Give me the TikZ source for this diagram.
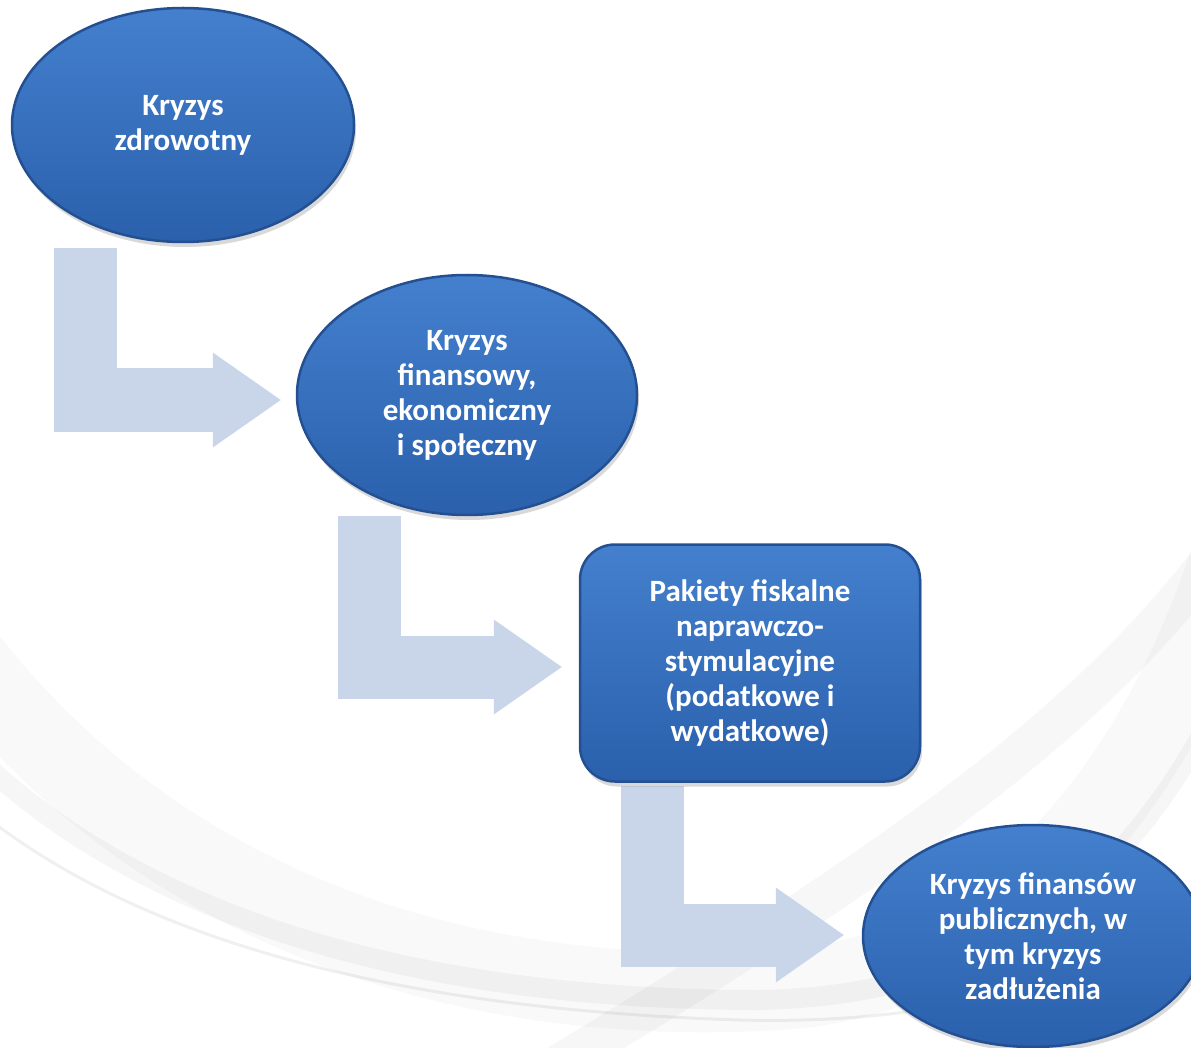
\documentclass[tikz,border=0pt]{standalone}
\usepackage{fontspec}
\setmainfont{Carlito}
\usetikzlibrary{calc, shapes.geometric, arrows.meta, shadows, backgrounds}
\definecolor{bubtop}{RGB}{68,128,206}
\definecolor{bubbot}{RGB}{42,96,172}
\definecolor{bubedge}{RGB}{36,80,146}
\definecolor{pale}{RGB}{201,214,234}
\tikzstyle{bubble} = [ellipse, draw=bubedge, line width=2.5pt, top color=bubtop, bottom color=bubbot,
  text=white, align=center, inner sep=0pt, font=\bfseries\fontsize{31}{35}\selectfont,
  drop shadow={shadow xshift=2pt, shadow yshift=-5pt, opacity=0.3}]
\tikzstyle{block} = [bubble, rectangle, rounded corners=35pt]
\tikzstyle{flow} = [draw=pale, line width=63pt, line join=miter,
  -{Triangle[length=68pt, width=95pt, line width=0pt]}]
\tikzstyle{swoosh} = [draw=black, line cap=round]

\begin{document}
\begin{tikzpicture}[x=1pt, y=-1pt]
    \useasboundingbox (0,0) rectangle (1191,1048);
    \node (k1) [bubble, minimum width=342pt, minimum height=234pt] at (183,125) {Kryzys\\zdrowotny};
    \node (k2) [bubble, minimum width=340pt, minimum height=240pt] at (467,395) {Kryzys\\finansowy,\\ekonomiczny\\i społeczny};
    \node (k3) [block, minimum width=340pt, minimum height=237pt] at (750,663) {Pakiety fiskalne\\naprawczo-\\stymulacyjne\\(podatkowe i\\wydatkowe)};
    \node (k4) [bubble, minimum width=340pt, minimum height=222pt] at (1033,936) {Kryzys finansów\\publicznych, w\\tym kryzys\\zadłużenia};
    \begin{scope}[on background layer]
        % background swoosh
        \draw[swoosh, line width=80pt, opacity=0.025] (-40,650) .. controls (150,900) and (450,1010) .. (780,990) .. controls (1000,975) and (1150,800) .. (1230,560);
        \draw[swoosh, line width=20pt, opacity=0.035] (-20,760) .. controls (150,920) and (420,1000) .. (760,1000) .. controls (980,995) and (1120,900) .. (1220,700);
        \draw[swoosh, line width=3pt, opacity=0.06] (-10,820) .. controls (160,950) and (420,1010) .. (740,1020) .. controls (950,1025) and (1100,980) .. (1210,880);
        \draw[swoosh, line width=40pt, opacity=0.03] (1240,520) .. controls (1100,720) and (900,860) .. (500,1100);
        \draw[flow] ($(k1.south)+(-98,5)$) |- ($(k2.west)+(-15,5)$);
        \draw[flow] ($(k2.south)+(-98,0)$) |- ($(k3.west)+(-17,4)$);
        \draw[flow] ($(k3.south)+(-98,3)$) |- ($(k4.west)+(-18,-1)$);
    \end{scope}
\end{tikzpicture}
\end{document}
